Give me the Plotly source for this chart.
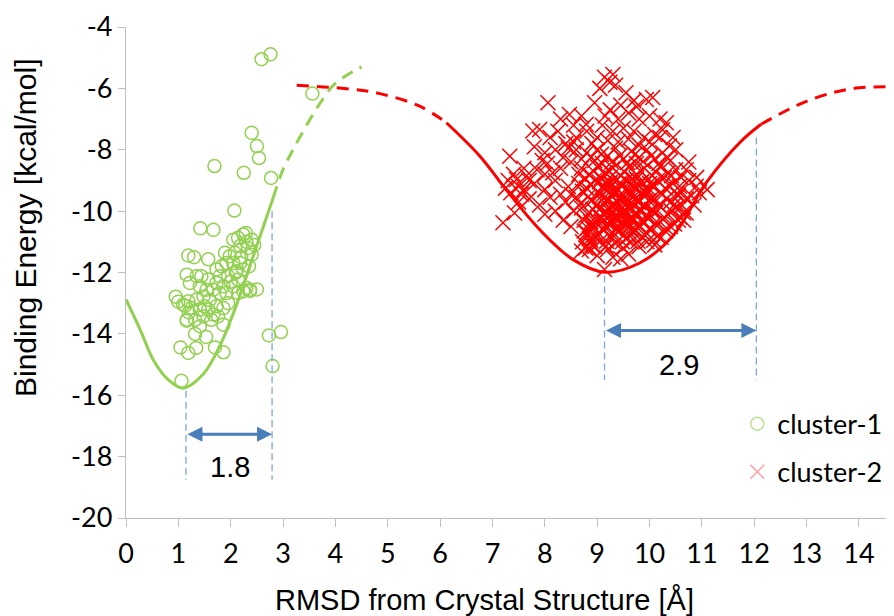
import plotly.graph_objects as go

# ---------------- data ----------------
c1_x = [2.59, 2.76, 3.56, 2.40, 2.50, 2.54, 1.69, 2.25, 2.77, 2.07, 1.42, 1.67, 1.19, 1.30, 1.57,
        1.16, 0.95, 1.13, 2.37, 1.16, 1.32, 1.53, 1.04, 1.19, 1.34, 1.70, 1.86, 1.06, 2.73, 2.96, 2.80,
        2.05, 2.14, 2.24, 2.29, 2.40, 2.18, 2.33, 2.40, 2.08, 1.98, 1.89, 1.92, 2.05, 2.18, 1.83, 1.73,
        1.79, 1.95, 2.11, 2.24, 2.14, 2.05, 1.86, 1.73, 1.57, 1.44, 1.35, 1.22, 1.41, 1.54, 1.67, 1.79,
        1.92, 2.14, 2.24, 2.37, 1.48, 1.35, 1.19, 1.09, 1.25, 1.41, 1.57, 1.73, 1.86, 1.48, 1.67, 1.76,
        1.16, 1.32, 1.41, 1.63, 1.86, 2.30, 2.45, 2.20, 2.35, 2.00, 2.30, 2.50, 1.95, 1.60, 1.50, 2.10,
        1.20, 1.00]
c1_y = [-5.05, -4.89, -6.17, -7.45, -7.88, -8.27, -8.53, -8.75, -8.92, -9.98, -10.56, -10.61, -11.45, -11.50, -11.57,
        -12.07, -12.79, -13.08, -12.60, -13.57, -14.00, -14.10, -14.44, -14.62, -14.46, -14.44, -14.60, -15.53, -14.05, -13.94, -15.05,
        -10.93, -10.87, -10.76, -10.71, -10.93, -11.14, -11.20, -11.42, -11.36, -11.47, -11.36, -11.69, -11.69, -11.69, -11.80, -11.90,
        -12.12, -12.12, -11.96, -11.90, -12.23, -12.45, -12.45, -12.34, -12.23, -12.12, -12.12, -12.34, -12.45, -12.56, -12.56, -12.67,
        -12.67, -12.67, -12.61, -12.56, -12.78, -12.88, -12.94, -13.05, -13.16, -13.21, -13.21, -13.10, -13.16, -13.43, -13.37, -13.43,
        -13.54, -13.54, -13.75, -13.54, -13.70, -11.00, -11.10, -11.50, -11.80, -12.30, -12.50, -12.55, -13.00, -12.90, -13.10, -12.00,
        -13.30, -12.95]

c2_x = [
    # core
    8.80, 9.00, 9.20, 9.35, 9.50, 9.65, 9.80, 9.95, 10.10, 10.25, 10.40, 8.95, 9.10, 9.75,
    8.70, 8.85, 9.00, 9.15, 9.30, 9.45, 9.60, 9.75, 9.90, 10.05, 10.20, 10.35, 10.50, 10.60,
    8.65, 8.80, 8.95, 9.10, 9.25, 9.40, 9.55, 9.70, 9.85, 10.00, 10.15, 10.30, 10.45, 10.60, 10.75,
    8.60, 8.75, 8.90, 9.05, 9.20, 9.35, 9.50, 9.65, 9.80, 9.95, 10.10, 10.25, 10.40, 10.55, 10.70, 9.30, 9.45,
    8.70, 8.85, 9.00, 9.15, 9.30, 9.45, 9.60, 9.75, 9.90, 10.05, 10.20, 10.35, 10.50, 10.65, 9.25, 9.55,
    8.75, 8.90, 9.05, 9.20, 9.35, 9.50, 9.65, 9.80, 9.95, 10.10, 10.25, 10.40, 10.55,
    8.80, 8.95, 9.10, 9.25, 9.40, 9.55, 9.70, 9.85, 10.00, 10.15, 10.30,
    8.90, 9.05, 9.20, 9.35, 9.50, 9.65, 9.80, 9.95, 10.10,
    8.85, 9.17, 9.14, 9.00, 9.30, 9.60, 8.70, 9.45,
    9.20, 9.40, 9.60, 9.30, 9.50, 9.70, 9.45, 9.55, 9.15, 9.85, 9.35, 9.65, 10.00, 9.00, 9.25, 9.75,
    # core, second pass
    8.88, 9.08, 9.28, 9.43, 9.58, 9.72, 9.88, 10.03, 10.18, 10.33,
    8.78, 8.93, 9.08, 9.22, 9.38, 9.52, 9.68, 9.83, 9.98, 10.12, 10.28, 10.42,
    8.72, 8.88, 9.02, 9.18, 9.32, 9.48, 9.62, 9.78, 9.92, 10.08, 10.22, 10.38, 10.52,
    8.68, 8.82, 8.98, 9.12, 9.28, 9.42, 9.58, 9.72, 9.88, 10.02, 10.18, 10.32, 10.48, 10.62,
    8.78, 8.92, 9.08, 9.22, 9.38, 9.52, 9.68, 9.82, 9.98, 10.12, 10.28, 10.42, 10.58,
    8.82, 8.98, 9.12, 9.28, 9.42, 9.58, 9.72, 9.88, 10.02, 10.18, 10.32, 10.48,
    8.88, 9.02, 9.18, 9.32, 9.48, 9.62, 9.78, 9.92, 10.08, 10.22,
    # core, third pass (densest centre)
    9.04, 9.14, 9.24, 9.34, 9.44, 9.54, 9.64, 9.74, 9.84, 9.94, 10.04,
    9.09, 9.19, 9.29, 9.39, 9.49, 9.59, 9.69, 9.79, 9.89, 9.99,
    9.04, 9.14, 9.24, 9.34, 9.44, 9.54, 9.64, 9.74, 9.84, 9.94, 10.04,
    9.09, 9.19, 9.29, 9.39, 9.49, 9.59, 9.69, 9.79, 9.89,
    8.75, 8.85, 8.95, 8.72, 8.82, 8.92, 8.78, 8.88,
    # upper
    9.14, 9.30, 9.24, 9.35, 9.05, 8.95, 9.55, 9.70, 9.94, 10.06, 9.45, 9.25, 9.60, 9.40, 9.80, 10.00,
    10.20, 10.32, 10.25, 10.38, 10.10, 9.90, 9.70, 9.50, 9.30, 9.10, 9.20, 9.00, 9.40, 9.60, 9.80, 10.00,
    10.20, 10.50, 8.80, 8.79, 8.90, 9.15, 9.75, 10.45,
    # left wing
    8.06, 8.47, 8.30, 8.10, 7.77, 7.90, 8.60, 8.40, 8.20, 8.00, 7.33, 7.60, 7.40, 7.46, 7.30, 7.60,
    7.50, 7.80, 8.00, 8.20, 8.30, 8.50, 8.60, 8.70, 7.50, 7.70, 7.90, 7.20, 7.42, 7.65, 7.85, 8.05,
    8.15, 8.35, 8.45, 8.55, 8.00, 7.70, 7.35, 7.55, 7.25, 8.10, 8.30, 8.45, 8.40, 8.20, 8.00, 8.55,
    8.50, 8.35, 7.95, 7.80, 8.25, 8.70, 8.55, 8.65, 8.50,
    # right side
    10.70, 10.89, 10.57, 11.10, 10.80, 10.90, 10.75, 10.85, 10.65, 10.95, 10.70,
]
c2_y = [
    -8.10, -8.00, -8.20, -7.95, -8.30, -8.05, -8.25, -8.00, -8.30, -8.10, -8.35, -8.35, -8.45, -8.45,
    -8.60, -8.80, -8.55, -8.75, -8.60, -8.85, -8.55, -8.80, -8.60, -8.85, -8.55, -8.75, -8.65, -8.90,
    -9.10, -9.25, -9.00, -9.20, -9.05, -9.30, -9.00, -9.20, -9.05, -9.30, -9.00, -9.25, -9.10, -9.35, -9.00,
    -9.55, -9.40, -9.65, -9.45, -9.60, -9.40, -9.70, -9.50, -9.65, -9.45, -9.60, -9.45, -9.70, -9.50, -9.60, -9.75, -9.55,
    -9.90, -10.05, -9.80, -10.00, -9.85, -10.10, -9.90, -10.05, -9.80, -10.00, -9.85, -10.10, -9.90, -10.05, -10.15, -10.20,
    -10.30, -10.45, -10.20, -10.40, -10.25, -10.50, -10.30, -10.45, -10.20, -10.40, -10.25, -10.50, -10.30,
    -10.70, -10.85, -10.60, -10.80, -10.65, -10.90, -10.70, -10.85, -10.60, -10.80, -10.65,
    -11.10, -11.00, -11.25, -11.05, -11.20, -11.00, -11.15, -11.00, -11.10,
    -11.25, -11.14, -11.90, -11.45, -11.50, -11.40, -11.30, -11.55,
    -9.30, -9.90, -9.30, -10.00, -9.60, -9.80, -9.15, -10.35, -9.75, -9.40, -10.60, -10.60, -9.10, -10.30, -8.90, -8.95,
    -8.25, -8.15, -8.40, -8.20, -8.42, -8.15, -8.38, -8.20, -8.45, -8.25,
    -8.95, -8.70, -8.92, -8.68, -8.98, -8.72, -8.95, -8.70, -8.95, -8.72, -8.92, -8.85,
    -9.35, -9.15, -9.38, -9.12, -9.42, -9.18, -9.40, -9.15, -9.38, -9.20, -9.40, -9.18, -9.42,
    -9.75, -9.55, -9.80, -9.58, -9.82, -9.62, -9.85, -9.60, -9.82, -9.62, -9.80, -9.60, -9.78, -9.82,
    -10.15, -9.95, -10.20, -9.98, -10.25, -10.00, -10.22, -10.00, -10.25, -10.05, -10.20, -10.00, -10.20,
    -10.55, -10.38, -10.60, -10.40, -10.62, -10.40, -10.58, -10.38, -10.60, -10.42, -10.55, -10.42,
    -10.95, -10.80, -10.98, -10.82, -11.00, -10.80, -10.98, -10.80, -10.95, -10.85,
    -9.05, -9.28, -9.10, -9.32, -9.08, -9.30, -9.12, -9.28, -9.06, -9.30, -9.15,
    -9.50, -9.70, -9.52, -9.72, -9.48, -9.68, -9.55, -9.72, -9.50, -9.66,
    -9.95, -10.12, -9.92, -10.15, -9.98, -10.10, -9.94, -10.16, -9.96, -10.12, -9.95,
    -10.35, -10.52, -10.30, -10.50, -10.36, -10.55, -10.32, -10.48, -10.34,
    -10.65, -10.90, -11.15, -11.00, -10.75, -10.55, -11.20, -10.35,
    -5.64, -5.55, -5.80, -5.90, -6.00, -6.47, -6.14, -6.40, -6.36, -6.30, -6.55, -6.70, -6.80, -7.00, -7.00, -6.90,
    -7.00, -7.12, -7.35, -7.88, -7.50, -7.60, -7.40, -7.30, -7.40, -7.20, -7.70, -7.60, -7.75, -7.65, -7.85, -7.75,
    -7.60, -8.00, -7.40, -7.17, -7.80, -6.90, -6.60, -7.60,
    -6.47, -6.85, -7.00, -7.60, -7.39, -7.34, -7.60, -7.80, -8.00, -8.10, -8.21, -8.60, -8.80, -8.97, -9.00, -9.30,
    -9.20, -9.10, -9.30, -9.00, -8.60, -8.40, -8.00, -8.30, -9.70, -9.60, -9.80, -10.38, -10.06, -8.85, -8.65, -8.45,
    -8.75, -8.25, -7.95, -7.75, -8.80, -9.00, -9.40, -9.45, -9.25, -9.55, -9.45, -9.20, -9.70, -10.00, -10.10, -10.00,
    -10.50, -10.30, -8.35, -7.90, -7.40, -6.90, -7.20, -8.80, -9.45,
    -10.06, -9.19, -9.19, -9.30, -9.50, -8.90, -8.40, -9.80, -10.30, -9.40, -8.65,
]

# fitted curves, points
g_solid_x = [0.0, 0.27, 0.52, 0.81, 1.09, 1.48, 1.79, 2.10, 2.43, 2.81]
g_solid_y = [-12.88, -13.86, -14.84, -15.50, -15.77, -15.30, -14.40, -13.10, -11.47, -9.57]
g_dash_x = [2.81, 3.00, 3.19, 3.45, 3.70, 3.96, 4.21, 4.50]
g_dash_y = [-9.57, -8.64, -8.00, -7.20, -6.50, -5.90, -5.58, -5.30]

r_dash1_x = [3.26, 4.21, 4.85, 5.61, 6.12]
r_dash1_y = [-5.90, -6.01, -6.17, -6.58, -7.12]
r_solid_x = [6.12, 6.76, 7.26, 7.90, 8.54, 9.15, 9.81, 10.44, 11.08, 11.72, 12.13]
r_solid_y = [-7.12, -8.21, -9.30, -10.60, -11.58, -11.99, -11.69, -10.82, -9.08, -7.77, -7.17]
r_dash2_x = [12.13, 12.86, 13.50, 14.00, 14.60]
r_dash2_y = [-7.17, -6.52, -6.14, -5.98, -5.95]

# width annotations: (x_start, x_end, arrow_y, label, label_x, label_y)
spans = [
    (1.145, 2.79, -17.27, "1.8", 1.99, -18.33),
    (9.14, 12.04, -13.89, "2.9", 10.57, -15.03),
]
# dashed guide lines: (x, y_top, y_bottom)
guides = [
    (1.145, -15.85, -18.75),
    (2.79, -10.0, -18.75),
    (9.14, -12.1, -15.5),
    (12.04, -7.6, -15.5),
]

x_ticks = list(range(0, 15))
y_ticks = [-20, -18, -16, -14, -12, -10, -8, -6, -4]
y_ticklabels = ["-20", "-18", "-16", "-14", "-12", "-10", "-8", "-6", "-4"]

GREEN = "#92D050"
RED = "#FF0000"
BLUE = "#4A7EBB"
GUIDE = "#7EA6D8"
TICKFONT = "Lato, sans-serif"
ARIAL = "Liberation Sans, Arial, sans-serif"

fig = go.Figure()

dash_pat = "12px,8px"
fig.add_trace(go.Scatter(x=g_solid_x, y=g_solid_y, mode="lines", line=dict(color=GREEN, width=3, shape="spline"), showlegend=False, hoverinfo="skip"))
fig.add_trace(go.Scatter(x=g_dash_x, y=g_dash_y, mode="lines", line=dict(color=GREEN, width=3, shape="spline", dash=dash_pat), showlegend=False, hoverinfo="skip"))
fig.add_trace(go.Scatter(x=r_dash1_x, y=r_dash1_y, mode="lines", line=dict(color=RED, width=3, shape="spline", dash=dash_pat), showlegend=False, hoverinfo="skip"))
fig.add_trace(go.Scatter(x=r_solid_x, y=r_solid_y, mode="lines", line=dict(color=RED, width=3, shape="spline"), showlegend=False, hoverinfo="skip"))
fig.add_trace(go.Scatter(x=r_dash2_x, y=r_dash2_y, mode="lines", line=dict(color=RED, width=3, shape="spline", dash=dash_pat), showlegend=False, hoverinfo="skip"))

fig.add_trace(go.Scatter(x=c1_x, y=c1_y, mode="markers", showlegend=False,
                         marker=dict(symbol="circle-open", size=13, color=GREEN, line=dict(width=1.5, color=GREEN))))
fig.add_trace(go.Scatter(x=c2_x, y=c2_y, mode="markers", showlegend=False,
                         marker=dict(symbol="x-thin", size=15, color=RED, line=dict(width=1.5, color=RED))))

# legend-only entries (paler symbols as in reference)
fig.add_trace(go.Scatter(x=[None], y=[None], mode="markers", name="cluster-1", legendgroup="a",
                         marker=dict(symbol="circle-open", size=13, color="#B9E290", line=dict(width=1.5, color="#B9E290"))))
fig.add_trace(go.Scatter(x=[None], y=[None], mode="markers", name="cluster-2", legendgroup="b",
                         marker=dict(symbol="x-thin", size=14, color="#FF9A9A", line=dict(width=1.3, color="#FF9A9A"))))

for (gx, gy0, gy1) in guides:
    fig.add_shape(type="line", x0=gx, x1=gx, y0=gy0, y1=gy1, xref="x", yref="y",
                  line=dict(color=GUIDE, width=1.3, dash="7px,4px"))

for (x0, x1, ay, lab, lx, ly) in spans:
    fig.add_annotation(x=x1, y=ay, ax=x0, ay=ay, xref="x", yref="y", axref="x", ayref="y",
                       text="", showarrow=True, arrowhead=2, arrowside="end+start",
                       arrowsize=1, arrowwidth=3, arrowcolor=BLUE, standoff=0, startstandoff=0)
    fig.add_annotation(x=lx, y=ly, xref="x", yref="y", text=lab, showarrow=False,
                       font=dict(family=ARIAL, size=29, color="black"))

# the page adds an 8px body margin, so the figure is 8px smaller and shifted
OFF = 8
W, H = 894 - OFF, 616 - OFF
L, R, T, B = 126 - OFF, 1, 27 - OFF, 98
pw, ph = W - L - R, H - T - B

# axis titles (page pixel positions converted to paper coords)
fig.add_annotation(x=(484 - OFF - L) / pw, y=(H - B - (600 - OFF)) / ph, xref="paper", yref="paper",
                   xanchor="center", yanchor="middle",
                   text="RMSD from Crystal Structure [Å]", showarrow=False,
                   font=dict(family=ARIAL, size=29, color="black"))
fig.add_annotation(x=(26 - OFF - L) / pw, y=(H - B - (228 - OFF)) / ph, xref="paper", yref="paper",
                   xanchor="center", yanchor="middle",
                   text="Binding Energy [kcal/mol]", showarrow=False, textangle=-90,
                   font=dict(family=ARIAL, size=30, color="black"))

fig.update_layout(
    width=W, height=H,
    margin=dict(l=L, r=R, t=T, b=B, autoexpand=False),
    plot_bgcolor="white", paper_bgcolor="white",
    xaxis=dict(range=[0, 14.65], tickvals=x_ticks, ticks="outside", ticklen=8, tickcolor="#BFBFBF",
               showline=True, linecolor="#BFBFBF", linewidth=1.3, showgrid=False, zeroline=False,
               automargin=False,
               tickfont=dict(family=TICKFONT, size=27, color="black"), ticklabelstandoff=3),
    yaxis=dict(range=[-20, -4], tickvals=y_ticks, ticktext=y_ticklabels, ticks="outside", ticklen=7,
               tickcolor="#BFBFBF", showline=True, linecolor="#BFBFBF", linewidth=1.3, showgrid=False,
               zeroline=False, automargin=False,
               tickfont=dict(family=TICKFONT, size=27, color="black")),
    legend=dict(x=0.797, y=0.241, xanchor="left", yanchor="top", bgcolor="rgba(0,0,0,0)",
                font=dict(family=TICKFONT, size=27, color="black"), tracegroupgap=10,
                traceorder="grouped"),
    showlegend=True,
)

fig.write_html("out.html")
